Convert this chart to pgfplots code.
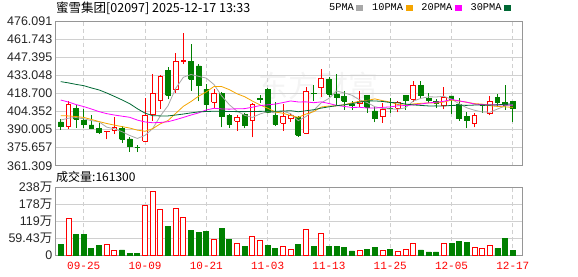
\documentclass[border=0pt]{standalone}
\usepackage{fontspec}
\setmainfont{Liberation Sans}
\newfontfamily\cjk{Noto Sans CJK SC}
\newfontfamily\mono{Liberation Mono}
\usepackage{pgfplots}
\pgfplotsset{compat=1.18}
\definecolor{kred}{RGB}{255,0,0}
\definecolor{kgreen}{RGB}{0,128,0}
\definecolor{ma5}{RGB}{168,168,168}
\definecolor{ma10}{RGB}{245,165,0}
\definecolor{ma20}{RGB}{255,0,255}
\definecolor{ma30}{RGB}{0,104,52}
\definecolor{frame}{RGB}{150,150,150}
\definecolor{gridc}{RGB}{208,208,208}
\pgfplotsset{
  kbase/.style={
    scale only axis, width=467pt, anchor=south west,
    xmin=-0.75, xmax=60.2,
    axis line style={draw=frame, line width=0.8pt},
    major tick length=0pt,
    xtick={3,11,19,27,35,43,51,59},
    xmajorgrids, ymajorgrids,
    every axis x grid/.append style={draw=gridc, dash pattern=on 4pt off 3pt, line width=0.7pt},
    every axis y grid/.append style={draw=gridc, line width=0.8pt},
    /pgf/number format/assume math mode=true,
    yticklabel style={font=\fontsize{12.5}{13}\selectfont, text=black!85, anchor=east, inner sep=0pt, xshift=-2.5pt},
  }
}
\begin{document}
\begin{tikzpicture}
\path[use as bounding box] (0pt,0pt) rectangle (578pt,276pt);
\node[text=gray!9, font=\cjk\fontsize{30}{30}\selectfont] at (318pt,190pt) {东方财富};
\node[anchor=west, inner sep=0pt, font=\cjk\fontsize{12.5}{13}\selectfont] at (56pt,267.5pt) {蜜雪集团[02097] 2025-12-17 13:33};
\node[anchor=west, inner sep=0pt, font=\cjk\fontsize{12}{13}\selectfont] at (56pt,99pt) {成交量:161300};

\begin{axis}[kbase, at={(55pt,110.3pt)}, height=144.7pt,
  ymin=361.309, ymax=476.091, unbounded coords=jump,
  ytick={361.309,375.657,390.005,404.352,418.700,433.048,447.395,461.743,476.091},
  yticklabels={361.309,375.657,390.005,404.352,418.700,433.048,447.395,461.743,476.091},
  xticklabels={,,,,,,,},
  legend columns=4, legend plot pos=right,
  legend image code/.code={\fill (0pt,-2.3pt) rectangle (6pt,2.3pt);},
  legend style={draw=none, fill=none, at={(1,1)}, anchor=south east, xshift=-11pt, yshift=9pt,
    inner sep=0pt, font=\mono\fontsize{10.3}{11}\selectfont, nodes={inner sep=0pt},
    /tikz/every odd column/.append style={column sep=2.5pt},
    /tikz/every even column/.append style={column sep=9pt}},
]
% wicks (low -- high) of falling candles
\addplot[forget plot, draw=kgreen, line width=0.8pt] coordinates {
(0,390)(0,398)(0,nan) (2,391.4)(2,409.4)(2,nan) (3,391.4)(3,406)(3,nan) (4,390.4)(4,401.5)(4,nan)
(5,386.4)(5,395.4)(5,nan) (8,379.6)(8,392.8)(8,nan) (9,372.4)(9,383.8)(9,nan) (10,372.1)(10,378)(10,nan)
(14,413.9)(14,439.9)(14,nan) (17,420.8)(17,457.8)(17,nan) (18,412.4)(18,442)(18,nan) (19,405)(19,425.9)(19,nan)
(21,391.7)(21,419.5)(21,nan) (22,391.4)(22,402.3)(22,nan) (24,390.9)(24,403.4)(24,nan) (26,410.8)(26,417.4)(26,nan)
(27,403.4)(27,422.7)(27,nan) (28,392.8)(28,412.1)(28,nan) (31,384.3)(31,401)(31,nan) (33,412.6)(33,425)(33,nan)
(35,415.5)(35,431.9)(35,nan) (36,409.2)(36,434)(36,nan) (37,405.5)(37,420.6)(37,nan) (38,405.5)(38,412.3)(38,nan)
(40,403.4)(40,417.6)(40,nan) (41,395.7)(41,407.6)(41,nan) (43,403.4)(43,414.7)(43,nan) (45,405.5)(45,417.1)(45,nan)
(47,415)(47,428.5)(47,nan) (48,410.8)(48,419)(48,nan) (49,406.8)(49,414.5)(49,nan) (51,402.3)(51,416.6)(51,nan)
(52,397)(52,415.3)(52,nan) (53,390.9)(53,404.1)(53,nan) (55,403.4)(55,410.2)(55,nan) (57,407.6)(57,418.2)(57,nan)
(58,405.5)(58,425.3)(58,nan) (59,396.2)(59,412.1)};
% wicks (low -- high) of rising candles
\addplot[forget plot, draw=kred, line width=0.8pt] coordinates {
(1,390.1)(1,412.6)(1,nan) (6,382.2)(6,389.2)(6,nan) (7,386.4)(7,399.6)(7,nan) (11,380.3)(11,414.7)(11,nan)
(12,397)(12,433.8)(12,nan) (13,406.3)(13,433.2)(13,nan) (15,419.2)(15,450.4)(15,nan) (16,441.7)(16,466.8)(16,nan)
(20,406.8)(20,422.4)(20,nan) (23,389.1)(23,401.5)(23,nan) (25,383.8)(25,411.3)(25,nan) (29,389.1)(29,410.2)(29,nan)
(30,396.2)(30,402.8)(30,nan) (32,386.7)(32,423.5)(32,nan) (34,416)(34,437.7)(34,nan) (39,407.6)(39,420.8)(39,nan)
(42,395.4)(42,411.3)(42,nan) (44,403.6)(44,412.3)(44,nan) (46,412.1)(46,428.5)(46,nan) (50,406)(50,423.5)(50,nan)
(54,391.7)(54,402.8)(54,nan) (56,401.2)(56,416.3)};
% bodies (close -- open) of falling candles
\addplot[forget plot, draw=kgreen, fill=kgreen, line width=0.8pt] coordinates {
(-0.31,392.2)(0.31,392.2)(0.31,396)(-0.31,396)(-0.31,392.2)(0,nan)
(1.69,398.1)(2.31,398.1)(2.31,406.5)(1.69,406.5)(1.69,398.1)(2,nan)
(2.69,393.8)(3.31,393.8)(3.31,397)(2.69,397)(2.69,393.8)(3,nan)
(3.69,391.2)(4.31,391.2)(4.31,393.6)(3.69,393.6)(3.69,391.2)(4,nan)
(4.69,387.5)(5.31,387.5)(5.31,391.2)(4.69,391.2)(4.69,387.5)(5,nan)
(7.69,382.2)(8.31,382.2)(8.31,391.2)(7.69,391.2)(7.69,382.2)(8,nan)
(8.69,376.4)(9.31,376.4)(9.31,382.5)(8.69,382.5)(8.69,376.4)(9,nan)
(9.69,375.5)(10.31,375.5)(10.31,376.1)(9.69,376.1)(9.69,375.5)(10,nan)
(13.69,417.1)(14.31,417.1)(14.31,437.2)(13.69,437.2)(13.69,417.1)(14,nan)
(16.69,429.8)(17.31,429.8)(17.31,444.1)(16.69,444.1)(16.69,429.8)(17,nan)
(17.69,425)(18.31,425)(18.31,440.4)(17.69,440.4)(17.69,425)(18,nan)
(18.69,410)(19.31,410)(19.31,421.9)(18.69,421.9)(18.69,410)(19,nan)
(20.69,400.2)(21.31,400.2)(21.31,418.7)(20.69,418.7)(20.69,400.2)(21,nan)
(21.69,394.4)(22.31,394.4)(22.31,401.5)(21.69,401.5)(21.69,394.4)(22,nan)
(23.69,393.6)(24.31,393.6)(24.31,402)(23.69,402)(23.69,393.6)(24,nan)
(25.69,413.8)(26.31,413.8)(26.31,414.3)(25.69,414.3)(25.69,413.8)(26,nan)
(26.69,403.9)(27.31,403.9)(27.31,421.9)(26.69,421.9)(26.69,403.9)(27,nan)
(27.69,394.4)(28.31,394.4)(28.31,401.2)(27.69,401.2)(27.69,394.4)(28,nan)
(30.69,385.6)(31.31,385.6)(31.31,399.6)(30.69,399.6)(30.69,385.6)(31,nan)
(32.69,418.5)(33.31,418.5)(33.31,418.8)(32.69,418.8)(32.69,418.5)(33,nan)
(34.69,418.2)(35.31,418.2)(35.31,430.1)(34.69,430.1)(34.69,418.2)(35,nan)
(35.69,415.3)(36.31,415.3)(36.31,418.2)(35.69,418.2)(35.69,415.3)(36,nan)
(36.69,412.6)(37.31,412.6)(37.31,416)(36.69,416)(36.69,412.6)(37,nan)
(37.69,409.4)(38.31,409.4)(38.31,409.6)(37.69,409.6)(37.69,409.4)(38,nan)
(39.69,407.6)(40.31,407.6)(40.31,417.1)(39.69,417.1)(39.69,407.6)(40,nan)
(40.69,398.6)(41.31,398.6)(41.31,404.7)(40.69,404.7)(40.69,398.6)(41,nan)
(42.69,406.8)(43.31,406.8)(43.31,407)(42.69,407)(42.69,406.8)(43,nan)
(44.69,413.4)(45.31,413.4)(45.31,417.1)(44.69,417.1)(44.69,413.4)(45,nan)
(46.69,417.1)(47.31,417.1)(47.31,425)(46.69,425)(46.69,417.1)(47,nan)
(47.69,412.9)(48.31,412.9)(48.31,414.5)(47.69,414.5)(47.69,412.9)(48,nan)
(48.69,410.8)(49.31,410.8)(49.31,412.6)(48.69,412.6)(48.69,410.8)(49,nan)
(50.69,413.9)(51.31,413.9)(51.31,416.6)(50.69,416.6)(50.69,413.9)(51,nan)
(51.69,398.6)(52.31,398.6)(52.31,410)(51.69,410)(51.69,398.6)(52,nan)
(52.69,397)(53.31,397)(53.31,400.4)(52.69,400.4)(52.69,397)(53,nan)
(54.69,409.2)(55.31,409.2)(55.31,410)(54.69,410)(54.69,409.2)(55,nan)
(56.69,411.3)(57.31,411.3)(57.31,415.8)(56.69,415.8)(56.69,411.3)(57,nan)
(57.69,409.4)(58.31,409.4)(58.31,411.3)(57.69,411.3)(57.69,409.4)(58,nan)
(58.69,406.8)(59.31,406.8)(59.31,412.1)(58.69,412.1)(58.69,406.8)};
% bodies (open -- close) of rising candles, hollow
\addplot[forget plot, draw=kred, fill=white, line width=0.8pt] coordinates {
(0.69,392.5)(1.31,392.5)(1.31,410)(0.69,410)(0.69,392.5)(1,nan)
(5.69,388.2)(6.31,388.2)(6.31,388.8)(5.69,388.8)(5.69,388.2)(6,nan)
(6.69,389.6)(7.31,389.6)(7.31,391.7)(6.69,391.7)(6.69,389.6)(7,nan)
(10.69,380.9)(11.31,380.9)(11.31,400.9)(10.69,400.9)(10.69,380.9)(11,nan)
(11.69,401.8)(12.31,401.8)(12.31,418.7)(11.69,418.7)(11.69,401.8)(12,nan)
(12.69,413.1)(13.31,413.1)(13.31,432.4)(12.69,432.4)(12.69,413.1)(13,nan)
(14.69,421.9)(15.31,421.9)(15.31,444.1)(14.69,444.1)(14.69,421.9)(15,nan)
(15.69,444.1)(16.31,444.1)(16.31,444.9)(15.69,444.9)(15.69,444.1)(16,nan)
(19.69,411.6)(20.31,411.6)(20.31,418.7)(19.69,418.7)(19.69,411.6)(20,nan)
(22.69,396.5)(23.31,396.5)(23.31,399.6)(22.69,399.6)(22.69,396.5)(23,nan)
(24.69,397)(25.31,397)(25.31,410.2)(24.69,410.2)(24.69,397)(25,nan)
(28.69,394.9)(29.31,394.9)(29.31,400.2)(28.69,400.2)(28.69,394.9)(29,nan)
(29.69,398.6)(30.31,398.6)(30.31,401)(29.69,401)(29.69,398.6)(30,nan)
(31.69,387)(32.31,387)(32.31,420.3)(31.69,420.3)(31.69,387)(32,nan)
(33.69,423.2)(34.31,423.2)(34.31,430.6)(33.69,430.6)(33.69,423.2)(34,nan)
(38.69,410.8)(39.31,410.8)(39.31,412.1)(38.69,412.1)(38.69,410.8)(39,nan)
(41.69,400.2)(42.31,400.2)(42.31,406.3)(41.69,406.3)(41.69,400.2)(42,nan)
(43.69,407.1)(44.31,407.1)(44.31,411.3)(43.69,411.3)(43.69,407.1)(44,nan)
(45.69,413.9)(46.31,413.9)(46.31,425)(45.69,425)(45.69,413.9)(46,nan)
(49.69,409.2)(50.31,409.2)(50.31,415.8)(49.69,415.8)(49.69,409.2)(50,nan)
(53.69,394.9)(54.31,394.9)(54.31,401.2)(53.69,401.2)(53.69,394.9)(54,nan)
(55.69,402.8)(56.31,402.8)(56.31,412.6)(55.69,412.6)(55.69,402.8)};

\addplot[color=ma5, line width=0.8pt] coordinates {
(0,397.5)(1,399.0)(2,399.5)(3,398.5)(4,397.06)(5,396.12)(6,391.88)(7,390.6)(8,388.28)(9,385.32)
(10,382.92)(11,385.34)(12,390.74)(13,400.78)(14,408.92)(15,422.64)(16,431.44)(17,433.66)(18,432.18)(19,430.76)
(20,425.68)(21,416.74)(22,409.66)(23,404.58)(24,401.3)(25,399.6)(26,402.32)(27,404.22)(28,403.18)(29,404.5)
(30,402.66)(31,397.02)(32,400.3)(33,405.12)(34,411.2)(35,414.64)(36,420.58)(37,419.04)(38,417.22)(39,413.52)
(40,411.4)(41,408.06)(42,406.8)(43,406.28)(44,406.12)(45,407.28)(46,412.56)(47,414.72)(48,415.94)(49,415.84)
(50,416.32)(51,414.1)(52,410.4)(53,407.22)(54,405.3)(55,403.98)(56,403.72)(57,406.26)(58,408.74)(59,409.86)};
\addlegendentry{5PMA}
\addplot[color=ma10, line width=0.8pt] coordinates {
(0,401.0)(1,400.8)(2,400.3)(3,399.6)(4,398.0)(5,396.3)(6,394.8)(7,393.5)(8,392.3)(9,391.19)
(10,389.52)(11,388.61)(12,390.67)(13,394.53)(14,397.12)(15,402.78)(16,408.39)(17,412.2)(18,416.48)(19,419.84)
(20,424.16)(21,424.09)(22,421.66)(23,418.38)(24,416.03)(25,412.64)(26,409.53)(27,406.94)(28,403.88)(29,402.9)
(30,401.13)(31,399.67)(32,402.26)(33,404.15)(34,407.85)(35,408.65)(36,408.8)(37,409.67)(38,411.17)(39,412.36)
(40,413.02)(41,414.32)(42,412.92)(43,411.75)(44,409.82)(45,409.34)(46,410.31)(47,410.76)(48,411.11)(49,410.98)
(50,411.8)(51,413.33)(52,412.56)(53,411.58)(54,410.57)(55,410.15)(56,408.91)(57,408.33)(58,407.98)(59,407.58)};
\addlegendentry{10PMA}
\addplot[color=ma20, line width=0.8pt] coordinates {
(0,413.4)(1,411.8)(2,409.8)(3,408.2)(4,406.3)(5,404.2)(6,402.6)(7,401.5)(8,400.6)(9,399.7)
(10,397.5)(11,396.0)(12,395.4)(13,395.6)(14,396.2)(15,397.8)(16,399.6)(17,401.5)(18,403.2)(19,405.52)
(20,406.84)(21,406.35)(22,406.17)(23,406.46)(24,406.58)(25,407.71)(26,408.96)(27,409.57)(28,410.18)(29,411.37)
(30,412.65)(31,411.88)(32,411.96)(33,411.27)(34,411.94)(35,410.65)(36,409.17)(37,408.31)(38,407.53)(39,407.63)
(40,407.08)(41,407.0)(42,407.59)(43,407.95)(44,408.84)(45,409.0)(46,409.56)(47,410.22)(48,411.14)(49,411.67)
(50,412.41)(51,413.83)(52,412.74)(53,411.67)(54,410.2)(55,409.75)(56,409.61)(57,409.55)(58,409.55)(59,409.28)};
\addlegendentry{20PMA}
\addplot[color=ma30, line width=0.8pt] coordinates {
(0,428.0)(1,427.0)(2,425.8)(3,424.8)(4,423.0)(5,421.4)(6,419.0)(7,416.3)(8,413.5)(9,410.5)
(10,406.5)(11,403.0)(12,401.0)(13,400.8)(14,400.8)(15,401.5)(16,402.3)(17,403.2)(18,404.0)(19,404.3)
(20,404.5)(21,404.5)(22,404.3)(23,404.2)(24,404.2)(25,404.3)(26,404.4)(27,404.5)(28,404.5)(29,404.64)
(30,404.94)(31,404.12)(32,404.86)(33,405.69)(34,407.0)(35,408.02)(36,408.91)(37,409.6)(38,410.51)(39,411.7)
(40,412.77)(41,412.69)(42,412.28)(43,411.43)(44,411.23)(45,410.21)(46,409.55)(47,409.12)(48,408.72)(49,408.75)
(50,408.65)(51,409.11)(52,409.25)(53,409.16)(54,409.41)(55,409.38)(56,409.34)(57,409.59)(58,410.09)(59,410.31)};
\addlegendentry{30PMA}
\end{axis}

\begin{axis}[kbase, at={(55pt,20.7pt)}, height=68.3pt,
  ymin=0, ymax=237.72,
  ytick={0,59.43,118.86,178.29,237.72},
  yticklabels={0,59.43{\cjk 万},119{\cjk 万},178{\cjk 万},238{\cjk 万}},
  xticklabels={09-25,10-09,10-21,11-03,11-13,11-25,12-05,12-17},
  xticklabel style={font=\mono\fontsize{11}{12}\selectfont, text=kred, inner sep=0pt, yshift=-6.5pt},
]
\addplot[ybar, bar width=5pt, bar shift=0pt, draw=kred, fill=white, line width=0.8pt] coordinates {
(1,128)(6,38)(7,17.3)(11,174)(12,221.6)(13,159)(15,162.7)(16,131.5)(20,55.4)(23,41.5)(25,65.8)(26,51.9)
(29,31.2)(30,20.8)(32,90)(34,76.2)(39,18.5)(42,17.3)(44,13.8)(45,20.8)(46,41.5)(50,41.5)(54,26.5)(55,24.2)(56,34.6)};
\addplot[ybar, bar width=5pt, bar shift=0pt, draw=kgreen, fill=kgreen, line width=0.8pt] coordinates {
(0,39.2)(2,73.9)(3,73.9)(4,25.4)(5,35.8)(8,18.5)(9,8)(10,8)(14,101.5)(17,87.7)(18,80.8)(19,84.2)(21,94.6)
(22,56.5)(24,32.3)(27,35.8)(28,25.4)(31,39.2)(33,32.3)(35,32.3)(36,32.3)(37,27.7)(38,15)(40,21.9)(41,27.7)
(43,20.8)(47,18.5)(48,11.5)(49,11.5)(51,42.7)(52,49.6)(53,46.2)(57,24.2)(58,60)(59,16.13)};
\end{axis}
\end{tikzpicture}
\end{document}
